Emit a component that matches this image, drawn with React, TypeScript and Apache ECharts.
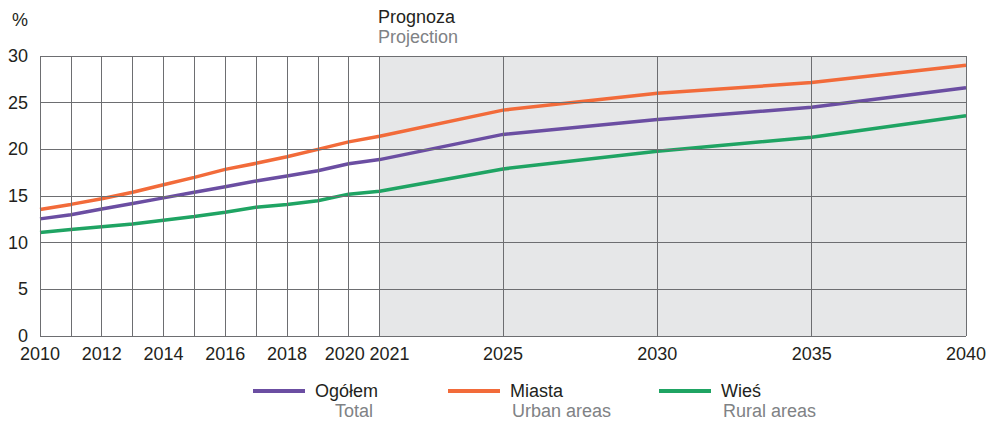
import React, { useEffect, useRef } from "react";
import * as echarts from "echarts";

const years = [2010, 2011, 2012, 2013, 2014, 2015, 2016, 2017, 2018, 2019, 2020, 2021, 2025, 2030, 2035, 2040];
const totalValues = [12.55, 13.0, 13.6, 14.2, 14.8, 15.4, 16.0, 16.6, 17.15, 17.7, 18.45, 18.9, 21.6, 23.2, 24.5, 26.6];
const urbanValues = [13.55, 14.1, 14.7, 15.4, 16.2, 17.0, 17.85, 18.5, 19.2, 20.0, 20.8, 21.4, 24.2, 26.0, 27.15, 29.0];
const ruralValues = [11.1, 11.4, 11.7, 12.0, 12.4, 12.8, 13.25, 13.8, 14.1, 14.5, 15.2, 15.5, 17.9, 19.8, 21.3, 23.6];
const xTickLabels = [2010, 2012, 2014, 2016, 2018, 2020, 2021, 2025, 2030, 2035, 2040];
const verticalGridYears = [2010, 2011, 2012, 2013, 2014, 2015, 2016, 2017, 2018, 2019, 2020, 2021, 2025, 2030, 2035, 2040];
const horizontalGridValues = [0, 5, 10, 15, 20, 25, 30];
const projectionRange = [2021, 2040];
const seriesNames = ["Ogółem", "Miasta", "Wieś"];
const seriesSubtitles = ["Total", "Urban areas", "Rural areas"];

const FONT = "'Liberation Sans', Arial, sans-serif";
const GRID_COLOR = "#6d6e71";
const COLORS = ["#6b4ea2", "#f26b3a", "#1fa463"];

export default function App() {
  const ref = useRef<HTMLDivElement>(null);

  useEffect(() => {
    if (!ref.current) return;
    const chart = echarts.init(ref.current, undefined, { renderer: "svg" });
    const valuesList = [totalValues, urbanValues, ruralValues];

    const gridLines: any[] = [
      ...verticalGridYears.map((y) => ({ xAxis: y })),
      ...horizontalGridValues.map((v) => ({ yAxis: v })),
    ];

    const legendLefts = [253, 448, 659];
    const subtitleLefts = [335, 512, 723];

    const option: any = {
      animation: false,
      backgroundColor: "#ffffff",
      textStyle: { fontFamily: FONT },
      grid: { left: 40, right: 24, top: 56, bottom: 86, show: false },
      xAxis: {
        type: "value",
        min: 2010,
        max: 2040,
        axisLine: { show: false },
        axisTick: { show: false },
        splitLine: { show: false },
        axisLabel: {
          customValues: xTickLabels,
          margin: 10,
          fontSize: 18,
          lineHeight: 16,
          color: "#231f20",
          fontFamily: FONT,
          formatter: (v: number) => {
            if (v === 2020) return "{l|2020}";
            if (v === 2021) return "{r|2021}";
            return String(v);
          },
          rich: {
            l: { fontSize: 18, lineHeight: 16, color: "#231f20", fontFamily: FONT, padding: [0, 8, 0, 0] },
            r: { fontSize: 18, lineHeight: 16, color: "#231f20", fontFamily: FONT, padding: [0, 0, 0, 20] },
          },
        },
      },
      yAxis: {
        type: "value",
        min: 0,
        max: 30,
        interval: 5,
        axisLine: { show: false },
        axisTick: { show: false },
        splitLine: { show: false },
        axisLabel: { margin: 12, fontSize: 18, lineHeight: 15, color: "#231f20", fontFamily: FONT },
      },
      legend: seriesNames.map((name, i) => ({
        data: [name],
        left: legendLefts[i],
        top: 381,
        padding: 0,
        itemWidth: 52,
        itemHeight: 4,
        itemGap: 0,
        icon: "rect",
        selectedMode: false,
        textStyle: { fontSize: 18, color: "#231f20", fontFamily: FONT, lineHeight: 20, padding: [0, 0, 0, 5] },
      })),
      graphic: [
        { type: "text", left: 12, top: 11, style: { text: "%", fontSize: 18, fill: "#231f20", fontFamily: FONT } },
        { type: "text", left: 378, top: 8, style: { text: "Prognoza", fontSize: 18, lineHeight: 17, fill: "#231f20", fontFamily: FONT } },
        { type: "text", left: 378, top: 28, style: { text: "Projection", fontSize: 18, lineHeight: 17, fill: "#808285", fontFamily: FONT } },
        ...seriesSubtitles.map((t, i) => ({
          type: "text",
          left: subtitleLefts[i],
          top: 402,
          style: { text: t, fontSize: 18, fill: "#808285", fontFamily: FONT },
        })),
      ],
      series: [
        {
          type: "line",
          name: "__area",
          data: [],
          z: 0,
          silent: true,
          markArea: {
            silent: true,
            itemStyle: { color: "#e6e7e8" },
            data: [[{ xAxis: projectionRange[0] }, { xAxis: projectionRange[1] }]],
          },
        },
        {
          type: "line",
          name: "__grid",
          data: [],
          z: 1,
          silent: true,
          markLine: {
            silent: true,
            symbol: "none",
            label: { show: false },
            lineStyle: { color: GRID_COLOR, width: 1, type: "solid" },
            data: gridLines,
          },
        },
        ...seriesNames.map((name, i) => ({
          type: "line",
          name,
          z: 3,
          data: years.map((y, j) => [y, valuesList[i][j]]),
          showSymbol: false,
          symbol: "none",
          lineStyle: { color: COLORS[i], width: 3.5 },
          itemStyle: { color: COLORS[i] },
        })),
      ],
    };

    chart.setOption(option);
    return () => chart.dispose();
  }, []);

  return <div ref={ref} style={{ width: 990, height: 422, position: "absolute", left: 0, top: 0 }} />;
}
